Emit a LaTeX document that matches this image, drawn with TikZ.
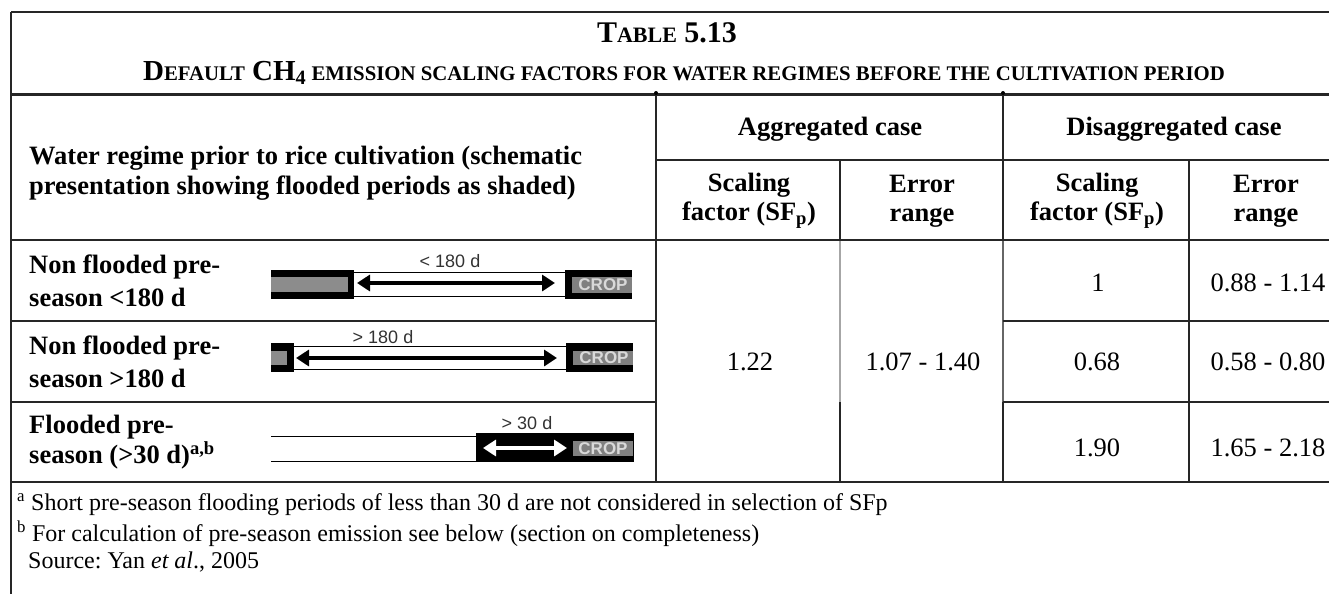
\documentclass[tikz,border=0pt]{standalone}
\usepackage{fontspec}
\setmainfont{Liberation Serif}
\newfontfamily\sansf{Liberation Sans}
\usetikzlibrary{arrows.meta}
\newcommand{\tsc}[1]{{\fontsize{20.8}{21}\selectfont #1}}
\newcommand{\tscb}[1]{{\fontsize{22}{22}\selectfont #1}}
\begin{document}
\begin{tikzpicture}[x=1pt,y=-1pt,
  rule/.style={line width=1.3pt, black!85},
  fatrule/.style={line width=3pt, black!85},
  midrule/.style={line width=2pt, black!85},
  faint/.style={line width=1.2pt, black!35},
  ttl/.style={font=\fontsize{29}{30}\selectfont\bfseries, inner sep=0pt},
  hdr/.style={font=\fontsize{26.5}{29}\selectfont\bfseries, align=center, inner sep=0pt},
  lbl/.style={font=\fontsize{26.5}{33}\selectfont\bfseries, align=left, anchor=west, inner sep=0pt},
  num/.style={font=\fontsize{26.5}{30}\selectfont, inner sep=0pt},
  foot/.style={font=\fontsize{24}{28}\selectfont, anchor=west, inner sep=0pt},
  schem/.style={font=\sansf\fontsize{18}{19}\selectfont, text=black!80, inner sep=0pt},
  croptxt/.style={font=\sansf\bfseries\fontsize{17}{17}\selectfont, text=white!85!black, inner sep=0pt},
  dblarrow/.style={line width=4.5pt, {Triangle[length=13pt,width=16pt]}-{Triangle[length=13pt,width=16pt]}},
  thin/.style={line width=1pt, black},
]
\useasboundingbox (0,0) rectangle (1329,594);
\fill[white] (0,0) rectangle (1329,594);

% ---------- table rules ----------
\draw[rule] (11,12) -- (1329,12);
\draw[rule] (11,12) -- (11,594);
\draw[fatrule] (11,94) -- (1329,94);
\draw[rule] (656,94) -- (656,482);
\draw[rule] (1003,94) -- (1003,240);
\draw[line width=1.3pt, black!60] (1003,240) -- (1003,402);
\draw[rule] (1003,402) -- (1003,482);
\draw[rule] (656,160) -- (1329,160);
\draw[rule] (840,160) -- (840,240);
\draw[faint] (840,240) -- (840,402);
\draw[rule] (840,402) -- (840,482);
\draw[rule] (1189,160) -- (1189,482);
\draw[midrule] (11,240) -- (1329,240);
\draw[rule] (11,321) -- (656,321);
\draw[rule] (1003,321) -- (1329,321);
\draw[rule] (11,402) -- (656,402);
\draw[rule] (1003,402) -- (1329,402);
\draw[midrule] (11,482) -- (1329,482);
\fill[black] (656,93) circle (2);
\fill[black] (1003,93) circle (2);

% ---------- title ----------
\node[ttl, font=\fontsize{30}{30}\selectfont\bfseries] (t1) at (667,33) {T\tscb{ABLE} 5.13};
\node[ttl] (t2) at (684,73) {D\tsc{EFAULT} CH\textsubscript{4}\tsc{ EMISSION SCALING FACTORS FOR WATER REGIMES BEFORE THE CULTIVATION PERIOD}};

% ---------- header ----------
\node[lbl, font=\fontsize{26.5}{30}\selectfont\bfseries] (wr) at (29,173) {Water regime prior to rice cultivation (schematic\\presentation showing flooded periods as shaded)};
\node[hdr] (agg) at (830,129) {Aggregated case};
\node[hdr] (dis) at (1174,129) {Disaggregated case};
\node[hdr] (sf1) at (749,201) {Scaling\\factor (SF\textsubscript{p})};
\node[hdr] (er1) at (922,201) {Error\\range};
\node[hdr] (sf2) at (1097,201) {Scaling\\factor (SF\textsubscript{p})};
\node[hdr] (er2) at (1266,201) {Error\\range};

% ---------- row labels ----------
\node[lbl] (r1) at (29,281) {Non flooded pre-\\season <180 d};
\node[lbl] (r2) at (29,362) {Non flooded pre-\\season >180 d};
\node[lbl, font=\fontsize{26.5}{30}\selectfont\bfseries] (r3) at (29,442) {Flooded pre-\\season (>30 d)\textsuperscript{a,b}};

% ---------- values ----------
\node[num] (v122) at (750,362) {1.22};
\node[num] (v107) at (923,362) {1.07 - 1.40};
\node[num] (v1) at (1098,283) {1};
\node[num] (v088) at (1268,283) {0.88 - 1.14};
\node[num] (v068) at (1097,362) {0.68};
\node[num] (v058) at (1268,362) {0.58 - 0.80};
\node[num] (v190) at (1097,448) {1.90};
\node[num] (v165) at (1268,448) {1.65 - 2.18};

% ---------- schematic row 1 ----------
\fill[black] (271,270) rectangle (354,299);
\fill[gray!90] (271,277) rectangle (348,292);
\draw[thin] (354,272) -- (565,272);
\draw[thin] (354,296) -- (565,296);
\fill[black] (565,270) rectangle (632,299);
\fill[gray] (572,277) rectangle (632,293);
\node[croptxt] (c1) at (603,285) {CROP};
\coordinate (a1l) at (357,283);
\coordinate (a1r) at (555,283);
\draw[dblarrow] (a1l) -- (a1r);
\node[schem] (l1) at (450,261) {< 180 d};

% ---------- schematic row 2 ----------
\fill[black] (271,343) rectangle (294,372);
\fill[gray!90] (271,351) rectangle (287,365);
\draw[thin] (294,346) -- (566,346);
\draw[thin] (294,369) -- (566,369);
\fill[black] (566,343) rectangle (633,372);
\fill[gray] (573,351) rectangle (633,365);
\node[croptxt] (c2) at (604,358) {CROP};
\coordinate (a2l) at (296,358);
\coordinate (a2r) at (557,358);
\draw[dblarrow] (a2l) -- (a2r);
\node[schem] (l2) at (383,337) {> 180 d};

% ---------- schematic row 3 ----------
\draw[thin] (271,436) -- (476,436);
\draw[thin] (271,461) -- (476,461);
\fill[black] (476,433) rectangle (634,462);
\fill[gray] (573,441) rectangle (633,456);
\node[croptxt] (c3) at (603,448.5) {CROP};
\coordinate (a3l) at (483,448);
\coordinate (a3r) at (567,448);
\draw[dblarrow, white] (a3l) -- (a3r);
\node[schem] (l3) at (527,423) {> 30 d};

% ---------- footnotes ----------
\node[foot] (fa) at (17,505) {\textsuperscript{a} Short pre-season flooding periods of less than 30 d are not considered in selection of SFp};
\node[foot] (fb) at (17,534) {\textsuperscript{b} For calculation of pre-season emission see below (section on completeness)};
\node[foot] (src) at (28,562) {Source:\ Yan \textit{et al}., 2005};
\end{tikzpicture}
\end{document}
